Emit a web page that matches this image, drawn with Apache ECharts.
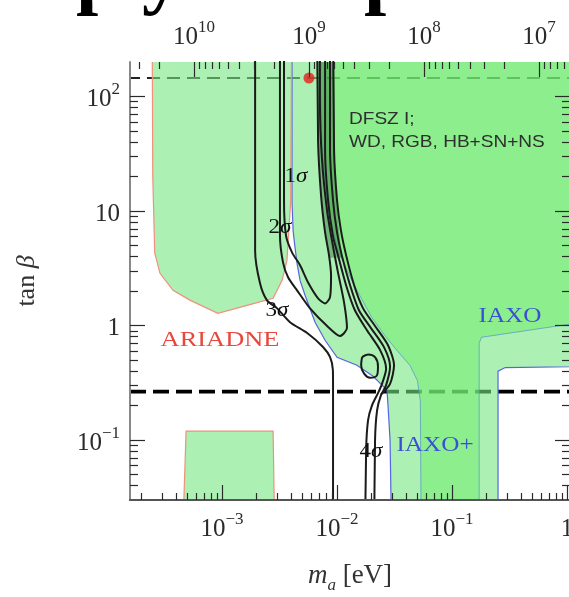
<!DOCTYPE html>
<html><head><meta charset="utf-8">
<script src="https://cdn.jsdelivr.net/npm/echarts@6/dist/echarts.min.js"></script>
<style>html,body{margin:0;padding:0;background:#fff}#c{width:569px;height:597px}</style>
</head><body><div id="c"></div>
<script>
const mRange = [1.585e-4, 1.06];
const tanbRange = [0.03, 200];
const faFactor = 5.7e6;

const xMajorTicks = [1e-3, 1e-2, 1e-1, 1];
const xTickBase = ['10', '10', '10', '1'];
const xTickExp = ['−3', '−2', '−1', ''];
const faMajorTicks = [1e7, 1e8, 1e9, 1e10];
const faTickBase = ['10', '10', '10', '10'];
const faTickExp = ['7', '8', '9', '10'];
const yMajorTicks = [0.1, 1, 10, 100];
const yTickBase = ['10', '1', '10', '10'];
const yTickExp = ['−1', '', '', '2'];

const tanbUpper = 145;
const tanbLower = 0.265;
const redPoint = [[5.7e-3, 145]];

const ariadneUpper = [[2.46e-4,1000],[2.5e-4,20],[2.6e-4,4.3],[2.89e-4,2.86],[3.75e-4,2.03],[5.3e-4,1.66],
  [9.2e-4,1.28],[1.65e-3,1.5],[2.78e-3,1.73],[3.33e-3,2.48],[3.67e-3,3.71],[3.95e-3,12],[4.06e-3,1000]];
const ariadneLower = [[4.5e-4,0.01],[4.87e-4,0.12],[2.78e-3,0.12],[2.89e-3,0.01]];
const iaxoPlus = [[4.06e-3,1000],[4.06e-3,12],[4.15e-3,6.7],[4.31e-3,4.82],[4.49e-3,3.49],[4.77e-3,2.48],
  [5.27e-3,1.84],[6.44e-3,1.07],[7.87e-3,0.744],[1.0e-2,0.529],[1.49e-2,0.451],[2.06e-2,0.361],
  [2.72e-2,0.273],[2.78e-2,0.194],[2.89e-2,0.1],[3.0e-2,0.01],[0.251,0.01],[0.251,0.40],[0.29,0.43],[10,0.45],[10,1000]];
const iaxo = [[6.8e-3,1000],[7.4e-3,34],[8.4e-3,10],[1.02e-2,4.5],[1.38e-2,2.34],[2.0e-2,1.18],[2.6e-2,0.82],
  [3.3e-2,0.61],[4.3e-2,0.45],[5.0e-2,0.33],[5.3e-2,0.22],[5.4e-2,0.01],[0.172,0.01],[0.172,0.7],[0.18,0.79],
  [1.06,1.03],[10,1.05],[10,1000]];
const hintCore = [[6.7e-3,1000],[6.84e-3,34],[7.26e-3,12.4],[8.0e-3,6.1],[8.5e-3,3.9],[1.1e-2,3.9],
  [1.02e-2,8.3],[9.6e-3,18.5],[9.4e-3,1000]];

const sigma1 = [[3.46e-3,1000],[3.46e-3,12.4],[3.6e-3,6.1],[4.06e-3,4.36],[4.77e-3,3.36],[5.6e-3,2.38],[6.84e-3,1.73],
  [7.87e-3,1.56],[8.69e-3,1.77],[8.87e-3,2.75],[8.52e-3,4.1],[7.87e-3,6.5],[7.26e-3,13.7],[6.84e-3,41],[6.7e-3,1000]];
const sigma2 = [[3.19e-3,1000],[3.19e-3,6.1],[3.39e-3,3.56],[3.75e-3,2.64],[4.49e-3,2.03],[5.8e-3,1.42],[8.2e-3,0.99],
  [1.06e-2,0.81],[1.22e-2,0.95],[1.15e-2,1.6],[1.02e-2,2.9],[9.2e-3,5.0],[8.2e-3,10],[7.4e-3,28],[7.1e-3,92],[7.1e-3,1000]];
const sigma3 = [[1.94e-3,1000],[1.94e-3,4.5],[2.14e-3,2.34],[2.46e-3,1.66],[3.0e-3,1.42],[3.9e-3,1.07],[5.5e-3,0.86],
  [7.55e-3,0.65],[8.7e-3,0.53],[9.2e-3,0.41],[9.23e-3,0.3],[9.23e-3,0.01]];
const edgeA = [[7.87e-3,1000],[7.87e-3,34],[8.36e-3,12.4],[9.2e-3,6.1],[1.02e-2,4.1],[1.2e-2,2.24],[1.43e-2,1.36],
  [1.82e-2,0.91],[2.37e-2,0.61],[2.67e-2,0.42],[2.46e-2,0.31],[2.27e-2,0.257],[2.01e-2,0.2],[1.86e-2,0.149],
  [1.79e-2,0.082],[1.75e-2,0.01]];
const edgeB = [[8.69e-3,1000],[8.69e-3,34],[9.23e-3,12.4],[1.0e-2,6.5],[1.1e-2,4.1],[1.3e-2,2.24],[1.55e-2,1.36],
  [1.98e-2,0.946],[2.56e-2,0.648],[2.89e-2,0.442],[2.67e-2,0.302],[2.41e-2,0.247],[2.23e-2,0.183],[2.14e-2,0.1],[2.1e-2,0.01]];
const edgeC = [[9.23e-3,1000],[9.42e-3,34],[1.0e-2,12.4],[1.08e-2,6.8],[1.2e-2,4.1],[1.41e-2,2.24],[1.68e-2,1.42],
  [2.14e-2,0.99],[2.78e-2,0.67],[3.13e-2,0.45],[2.89e-2,0.31],[2.41e-2,0.25]];
const island = [[1.65e-2,0.53],[1.86e-2,0.56],[2.14e-2,0.53],[2.27e-2,0.44],[2.23e-2,0.37],[1.94e-2,0.35],
  [1.72e-2,0.38],[1.62e-2,0.45],[1.65e-2,0.53]];

function minorTicks(lo, hi) {
  const out = [];
  for (let e = Math.floor(Math.log10(lo)); e <= Math.ceil(Math.log10(hi)); e++)
    for (let k = 2; k <= 9; k++) { const v = k * Math.pow(10, e); if (v > lo && v < hi) out.push(v); }
  return out;
}
function idxOf(v, arr) { return arr.findIndex(t => Math.abs(Math.log10(v) - Math.log10(t)) < 1e-6); }
function supFormatter(ticks, base, exp) {
  return function (v) {
    const i = idxOf(v, ticks); if (i < 0) return '';
    return exp[i] ? '{b|' + base[i] + '}{s|' + exp[i] + '}' : '{b|' + base[i] + '}';
  };
}
const SERIF = '"Liberation Serif", "DejaVu Serif", serif';
const tickRich = {
  b: { fontFamily: SERIF, fontSize: 25, color: '#2a2a2a', lineHeight: 31, verticalAlign: 'bottom' },
  s: { fontFamily: SERIF, fontSize: 17, color: '#2a2a2a', lineHeight: 17, verticalAlign: 'top' }
};
const faRange = [faFactor / mRange[1], faFactor / mRange[0]];
const tickColor = '#2a2a2a';
const hiddenLine = { show: true, onZero: false, lineStyle: { color: 'rgba(0,0,0,0)', width: 0 } };

function tickAxis(extra) {
  return Object.assign({ type: 'log', logBase: 10, z: 10, splitLine: { show: false }, minorTick: { show: false },
    axisLine: hiddenLine }, extra);
}
function polySeries(points, fill, stroke, lw, z) {
  return { type: 'custom', coordinateSystem: 'cartesian2d', xAxisIndex: 0, yAxisIndex: 0, clip: true, z: z, silent: true,
    data: [[1e-2, 1]],
    renderItem: function (params, api) {
      return { type: 'polygon', shape: { points: points.map(p => api.coord(p)) },
        style: { fill: fill, stroke: stroke, lineWidth: lw } };
    } };
}
function lineSeries(points, z) {
  return { type: 'line', data: points, symbol: 'none', showSymbol: false, smooth: 0.25, silent: true, z: z,
    xAxisIndex: 0, yAxisIndex: 0, lineStyle: { color: '#1b1b1b', width: 2 } };
}
function sigmaText(n, x, y) {
  return { type: 'text', x: x, y: y, z: 20, silent: true, scaleX: 1.15,
    style: { text: '{n|' + n + '}{g|σ}', textAlign: 'center', align: 'center', textVerticalAlign: 'middle', verticalAlign: 'middle',
      rich: { n: { fontSize: 20, fontFamily: SERIF, fill: '#111' }, g: { fontSize: 20, fontFamily: SERIF, fontStyle: 'italic', fill: '#111' } } } };
}
function tickStyle(len, vals) {
  return { show: true, inside: true, length: len, customValues: vals, lineStyle: { color: tickColor, width: 1.2 } };
}

const chart = echarts.init(document.getElementById('c'), null, { renderer: 'canvas' });
chart.setOption({
  animation: false,
  backgroundColor: '#fff',
  grid: { left: 130, top: 62, width: 440, height: 438, containLabel: false, outerBoundsMode: 'none' },
  xAxis: [
    tickAxis({ position: 'bottom', min: mRange[0], max: mRange[1],
      axisLine: { show: true, onZero: false, lineStyle: { color: '#555', width: 2 } },
      axisTick: tickStyle(15, xMajorTicks),
      axisLabel: { show: true, customValues: xMajorTicks, margin: 11, formatter: supFormatter(xMajorTicks, xTickBase, xTickExp), rich: tickRich },
      name: '{m|m}{a|a}{n| [eV]}', nameLocation: 'middle', nameGap: 62,
      nameTextStyle: { rich: {
        m: { fontFamily: SERIF, fontSize: 27, fontStyle: 'italic', color: '#333', lineHeight: 32, verticalAlign: 'top' },
        a: { fontFamily: SERIF, fontSize: 17, fontStyle: 'italic', color: '#333', lineHeight: 17, verticalAlign: 'bottom' },
        n: { fontFamily: SERIF, fontSize: 27, color: '#333', lineHeight: 32, verticalAlign: 'top' } } } }),
    tickAxis({ position: 'bottom', min: mRange[0], max: mRange[1],
      axisTick: tickStyle(7, minorTicks(mRange[0], mRange[1])), axisLabel: { show: false } }),
    tickAxis({ position: 'top', inverse: true, min: faRange[0], max: faRange[1],
      axisTick: tickStyle(15, faMajorTicks),
      axisLabel: { show: true, customValues: faMajorTicks, margin: 12, formatter: supFormatter(faMajorTicks, faTickBase, faTickExp), rich: tickRich } }),
    tickAxis({ position: 'top', inverse: true, min: faRange[0], max: faRange[1],
      axisTick: tickStyle(7, minorTicks(faRange[0], faRange[1])), axisLabel: { show: false } })
  ],
  yAxis: [
    tickAxis({ position: 'left', min: tanbRange[0], max: tanbRange[1],
      axisLine: { show: true, onZero: false, lineStyle: { color: '#888', width: 2 } },
      axisTick: tickStyle(15, yMajorTicks),
      axisLabel: { show: true, customValues: yMajorTicks, margin: 10, formatter: supFormatter(yMajorTicks, yTickBase, yTickExp), rich: tickRich },
      name: '{t|tan }{b|β}', nameLocation: 'middle', nameGap: 90, nameRotate: 90,
      nameTextStyle: { rich: {
        t: { fontFamily: SERIF, fontSize: 26, color: '#333' },
        b: { fontFamily: SERIF, fontSize: 26, fontStyle: 'italic', color: '#333' } } } }),
    tickAxis({ position: 'left', min: tanbRange[0], max: tanbRange[1],
      axisTick: tickStyle(8, minorTicks(tanbRange[0], tanbRange[1])), axisLabel: { show: false } }),
    tickAxis({ position: 'right', min: tanbRange[0], max: tanbRange[1],
      axisTick: tickStyle(15, yMajorTicks), axisLabel: { show: false } }),
    tickAxis({ position: 'right', min: tanbRange[0], max: tanbRange[1],
      axisTick: tickStyle(8, minorTicks(tanbRange[0], tanbRange[1])), axisLabel: { show: false } })
  ],
  series: [
    { type: 'line', data: [[1e-4, tanbUpper], [10, tanbUpper]], symbol: 'none', silent: true, z: 1,
      lineStyle: { color: '#222', width: 1.8, type: [13, 7] } },
    { type: 'line', data: [[1e-4, tanbLower], [10, tanbLower]], symbol: 'none', silent: true, z: 1,
      lineStyle: { color: '#000', width: 3.6, type: [16, 7] } },
    polySeries(iaxoPlus, 'rgba(118,230,130,0.6)', '#5566dd', 1.2, 2),
    polySeries(ariadneUpper, 'rgba(118,230,130,0.6)', '#f0907c', 1.2, 2),
    polySeries(ariadneLower, 'rgba(118,230,130,0.6)', '#f0907c', 1.2, 2),
    polySeries(iaxo, 'rgba(107,236,100,0.5)', 'rgba(80,150,200,0.7)', 1, 3),
    polySeries(hintCore, 'rgba(40,110,50,0.45)', null, 0, 4),
    lineSeries(sigma1, 5), lineSeries(sigma2, 5), lineSeries(sigma3, 5),
    lineSeries(edgeA, 5), lineSeries(edgeB, 5), lineSeries(edgeC, 5),
    Object.assign(lineSeries(island, 5), { smooth: 0.4 }),
    { type: 'scatter', data: redPoint, symbolSize: 11, z: 6, silent: true, itemStyle: { color: '#e6201c' } }
  ],
  graphic: [
    { type: 'text', x: 76, y: -22, silent: true, style: { text: 'p', font: 'bold 80px ' + SERIF, fill: '#000', textVerticalAlign: 'middle', verticalAlign: 'middle' } },
    { type: 'text', x: 142, y: -22, silent: true, style: { text: 'y', font: 'bold 80px ' + SERIF, fill: '#000', textVerticalAlign: 'middle', verticalAlign: 'middle' } },
    { type: 'text', x: 364, y: -22, silent: true, style: { text: 'p', font: 'bold 80px ' + SERIF, fill: '#000', textVerticalAlign: 'middle', verticalAlign: 'middle' } },
    { type: 'text', x: 349, y: 119, z: 20, silent: true, scaleX: 1.12, style: { text: 'DFSZ I;', font: '17px "Liberation Sans", Arial, sans-serif', fill: '#2f2f2f', textVerticalAlign: 'middle', verticalAlign: 'middle' } },
    { type: 'text', x: 349, y: 142, z: 20, silent: true, scaleX: 1.12, style: { text: 'WD, RGB, HB+SN+NS', font: '17px "Liberation Sans", Arial, sans-serif', fill: '#2f2f2f', textVerticalAlign: 'middle', verticalAlign: 'middle' } },
    { type: 'text', x: 220, y: 340, z: 20, silent: true, scaleX: 1.2, style: { text: 'ARIADNE', font: '22px ' + SERIF, fill: '#e8483c', textAlign: 'center', align: 'center', textVerticalAlign: 'middle', verticalAlign: 'middle' } },
    { type: 'text', x: 510, y: 316, z: 20, silent: true, scaleX: 1.2, style: { text: 'IAXO', font: '21px ' + SERIF, fill: '#3a4fd6', textAlign: 'center', align: 'center', textVerticalAlign: 'middle', verticalAlign: 'middle' } },
    { type: 'text', x: 435, y: 445, z: 20, silent: true, scaleX: 1.2, style: { text: 'IAXO+', font: '21px ' + SERIF, fill: '#3a4fd6', textAlign: 'center', align: 'center', textVerticalAlign: 'middle', verticalAlign: 'middle' } },
    sigmaText('1', 296, 177), sigmaText('2', 280, 228), sigmaText('3', 277, 311), sigmaText('4', 371, 452)
  ]
});
</script>
</body></html>
